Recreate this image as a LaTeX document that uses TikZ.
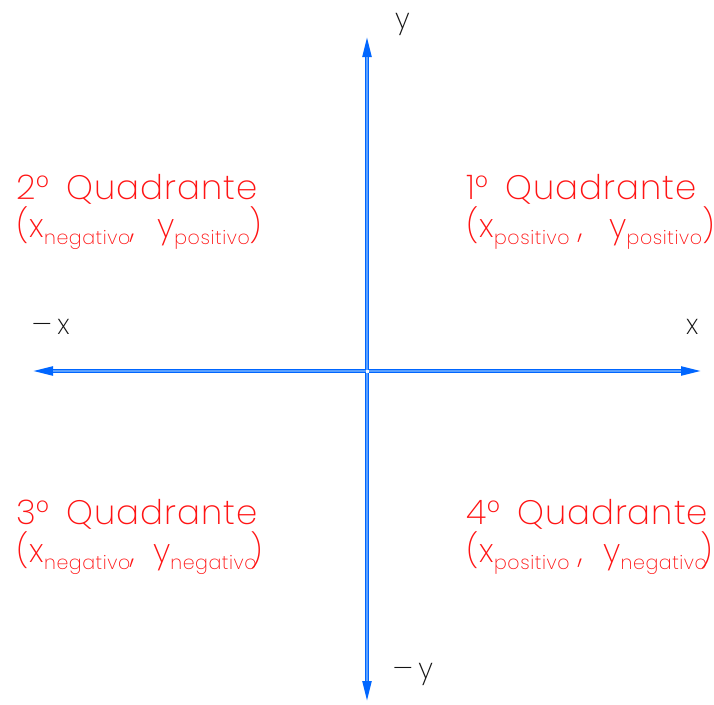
\documentclass[tikz,border=0pt]{standalone}
\usepackage{fontspec}
\setmainfont{Poppins}[UprightFont=* ExtraLight, LetterSpace=3]
\usepackage{graphicx}
\usetikzlibrary{arrows.meta}
\definecolor{axisblue}{RGB}{0,102,255}
\definecolor{axislight}{RGB}{90,160,255}
\definecolor{quadred}{RGB}{255,20,20}
\definecolor{labelgray}{RGB}{20,20,20}
\tikzset{
  axisline/.style={line width=3.6pt, draw=axisblue, -{Triangle[length=21pt,width=8.5pt]}, shorten <=1.5pt},
  axishi/.style={line width=1.3pt, draw=axislight, shorten <=1.5pt, shorten >=21pt},
  quadtitle/.style={anchor=base west, inner sep=0pt, text=quadred, font=\fontsize{34}{34}\selectfont},
  quadcoord/.style={anchor=base west, inner sep=0pt, text=quadred, font=\fontsize{33}{33}\selectfont},
  axislabel/.style={anchor=base west, inner sep=0pt, text=labelgray, font=\fontsize{28}{28}\selectfont}
}
\newcommand{\qsub}[1]{\raisebox{-7pt}{\fontsize{19}{19}\selectfont #1}}
\newcommand{\mns}{\scalebox{1.6}[1]{−}}
\begin{document}
\begin{tikzpicture}[x=1pt,y=-1pt]
\useasboundingbox (0,0) rectangle (714,704);
\coordinate (o) at (367,371);
\coordinate (xp) at (702,371);
\coordinate (xn) at (32,371);
\coordinate (yp) at (367,36);
\coordinate (yn) at (367,702);
\foreach \e in {xp,xn,yp,yn}{
  \draw[axisline] (o) -- (\e);
  \draw[axishi] (o) -- (\e);
}
\node[axislabel] (ly) at (395,28) {y};
\node[axislabel] (lx) at (686,334) {x};
\node[axislabel] (lmx) at (31,334) {\mns\,x};
\node[axislabel] (lmy) at (392,678) {\mns\,y};

\node[quadtitle] (q1) at (466,199) {1°\hspace{17pt}Quadrante};
\node[quadcoord] (c1) at (466,237) {(x\qsub{positivo}\;,\hspace{26pt}y\qsub{positivo})};
\node[quadtitle] (q2) at (16,199) {2°\hspace{17pt}Quadrante};
\node[quadcoord] (c2) at (16,237) {(x\qsub{negativo},\hspace{22pt}y\qsub{positivo})};
\node[quadtitle] (q3) at (16,524) {3°\hspace{17pt}Quadrante};
\node[quadcoord] (c3) at (16,562) {(x\qsub{negativo},\hspace{18pt}y\qsub{negativo}\hspace{-6pt})};
\node[quadtitle] (q4) at (466,524) {4°\hspace{17pt}Quadrante};
\node[quadcoord] (c4) at (466,562) {(x\qsub{positivo}\;,\hspace{20pt}y\qsub{negativo}\hspace{-6pt})};
\end{tikzpicture}
\end{document}
